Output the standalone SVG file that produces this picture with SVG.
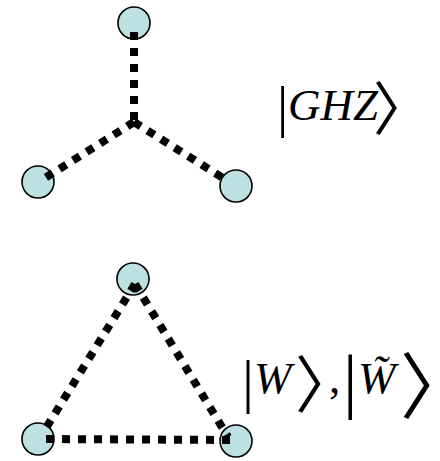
<svg xmlns="http://www.w3.org/2000/svg" width="440" height="461" viewBox="0 0 440 461">
<style>
.node{fill:#bde1e3;stroke:#000;stroke-width:1.6}
.dot{fill:none;stroke:#000;stroke-width:8;stroke-dasharray:8 8}
.lbl{font-family:"Liberation Serif","Times New Roman","Noto Sans CJK JP",serif;fill:#000}
.it{font-style:italic}
.br{letter-spacing:-0.7em}
.bar{letter-spacing:-0.08em}
.tight{letter-spacing:-0.15em}
</style>
<rect width="440" height="461" fill="#fff"/>
<g id="ghz-top"><circle class="node" cx="134" cy="23" r="16"/></g>
<g id="ghz-left"><circle class="node" cx="38" cy="182" r="16"/></g>
<g id="ghz-right"><circle class="node" cx="236" cy="186" r="16"/></g>
<g id="w-top"><circle class="node" cx="133" cy="279" r="16"/></g>
<g id="w-left"><circle class="node" cx="38" cy="439" r="16"/></g>
<g id="w-right"><circle class="node" cx="236" cy="441" r="16"/></g>
<g id="connectors">
<line class="dot" x1="134" y1="32" x2="134" y2="122"/>
<line class="dot" x1="134" y1="122" x2="45" y2="178"/>
<line class="dot" x1="134" y1="122" x2="226" y2="180"/>
<line class="dot" x1="135" y1="284" x2="46" y2="428"/>
<line class="dot" x1="135" y1="284" x2="228" y2="437"/>
<line class="dot" x1="46" y1="439" x2="230" y2="440"/>
</g>
<g id="label-ghz">
<text class="lbl"><tspan x="277" y="126" font-size="56" class="bar">|</tspan><tspan x="288" y="120" font-size="45" class="it">GH</tspan><tspan font-size="45" class="it tight">Z</tspan><tspan x="373" y="130" font-size="58" class="br">〉</tspan></text>
</g>
<g id="label-w">
<text class="lbl"><tspan x="242" y="401" font-size="60" class="bar">|</tspan><tspan x="254" y="393" font-size="45" class="it">W</tspan><tspan x="295" y="408" font-size="62" class="br">〉</tspan><tspan x="329" y="393" font-size="45">,</tspan><tspan x="343" y="405" font-size="72" class="bar">|</tspan><tspan x="358" y="393" font-size="45" class="it">W̃</tspan><tspan x="400" y="412" font-size="72" class="br">〉</tspan></text>
</g>
</svg>
